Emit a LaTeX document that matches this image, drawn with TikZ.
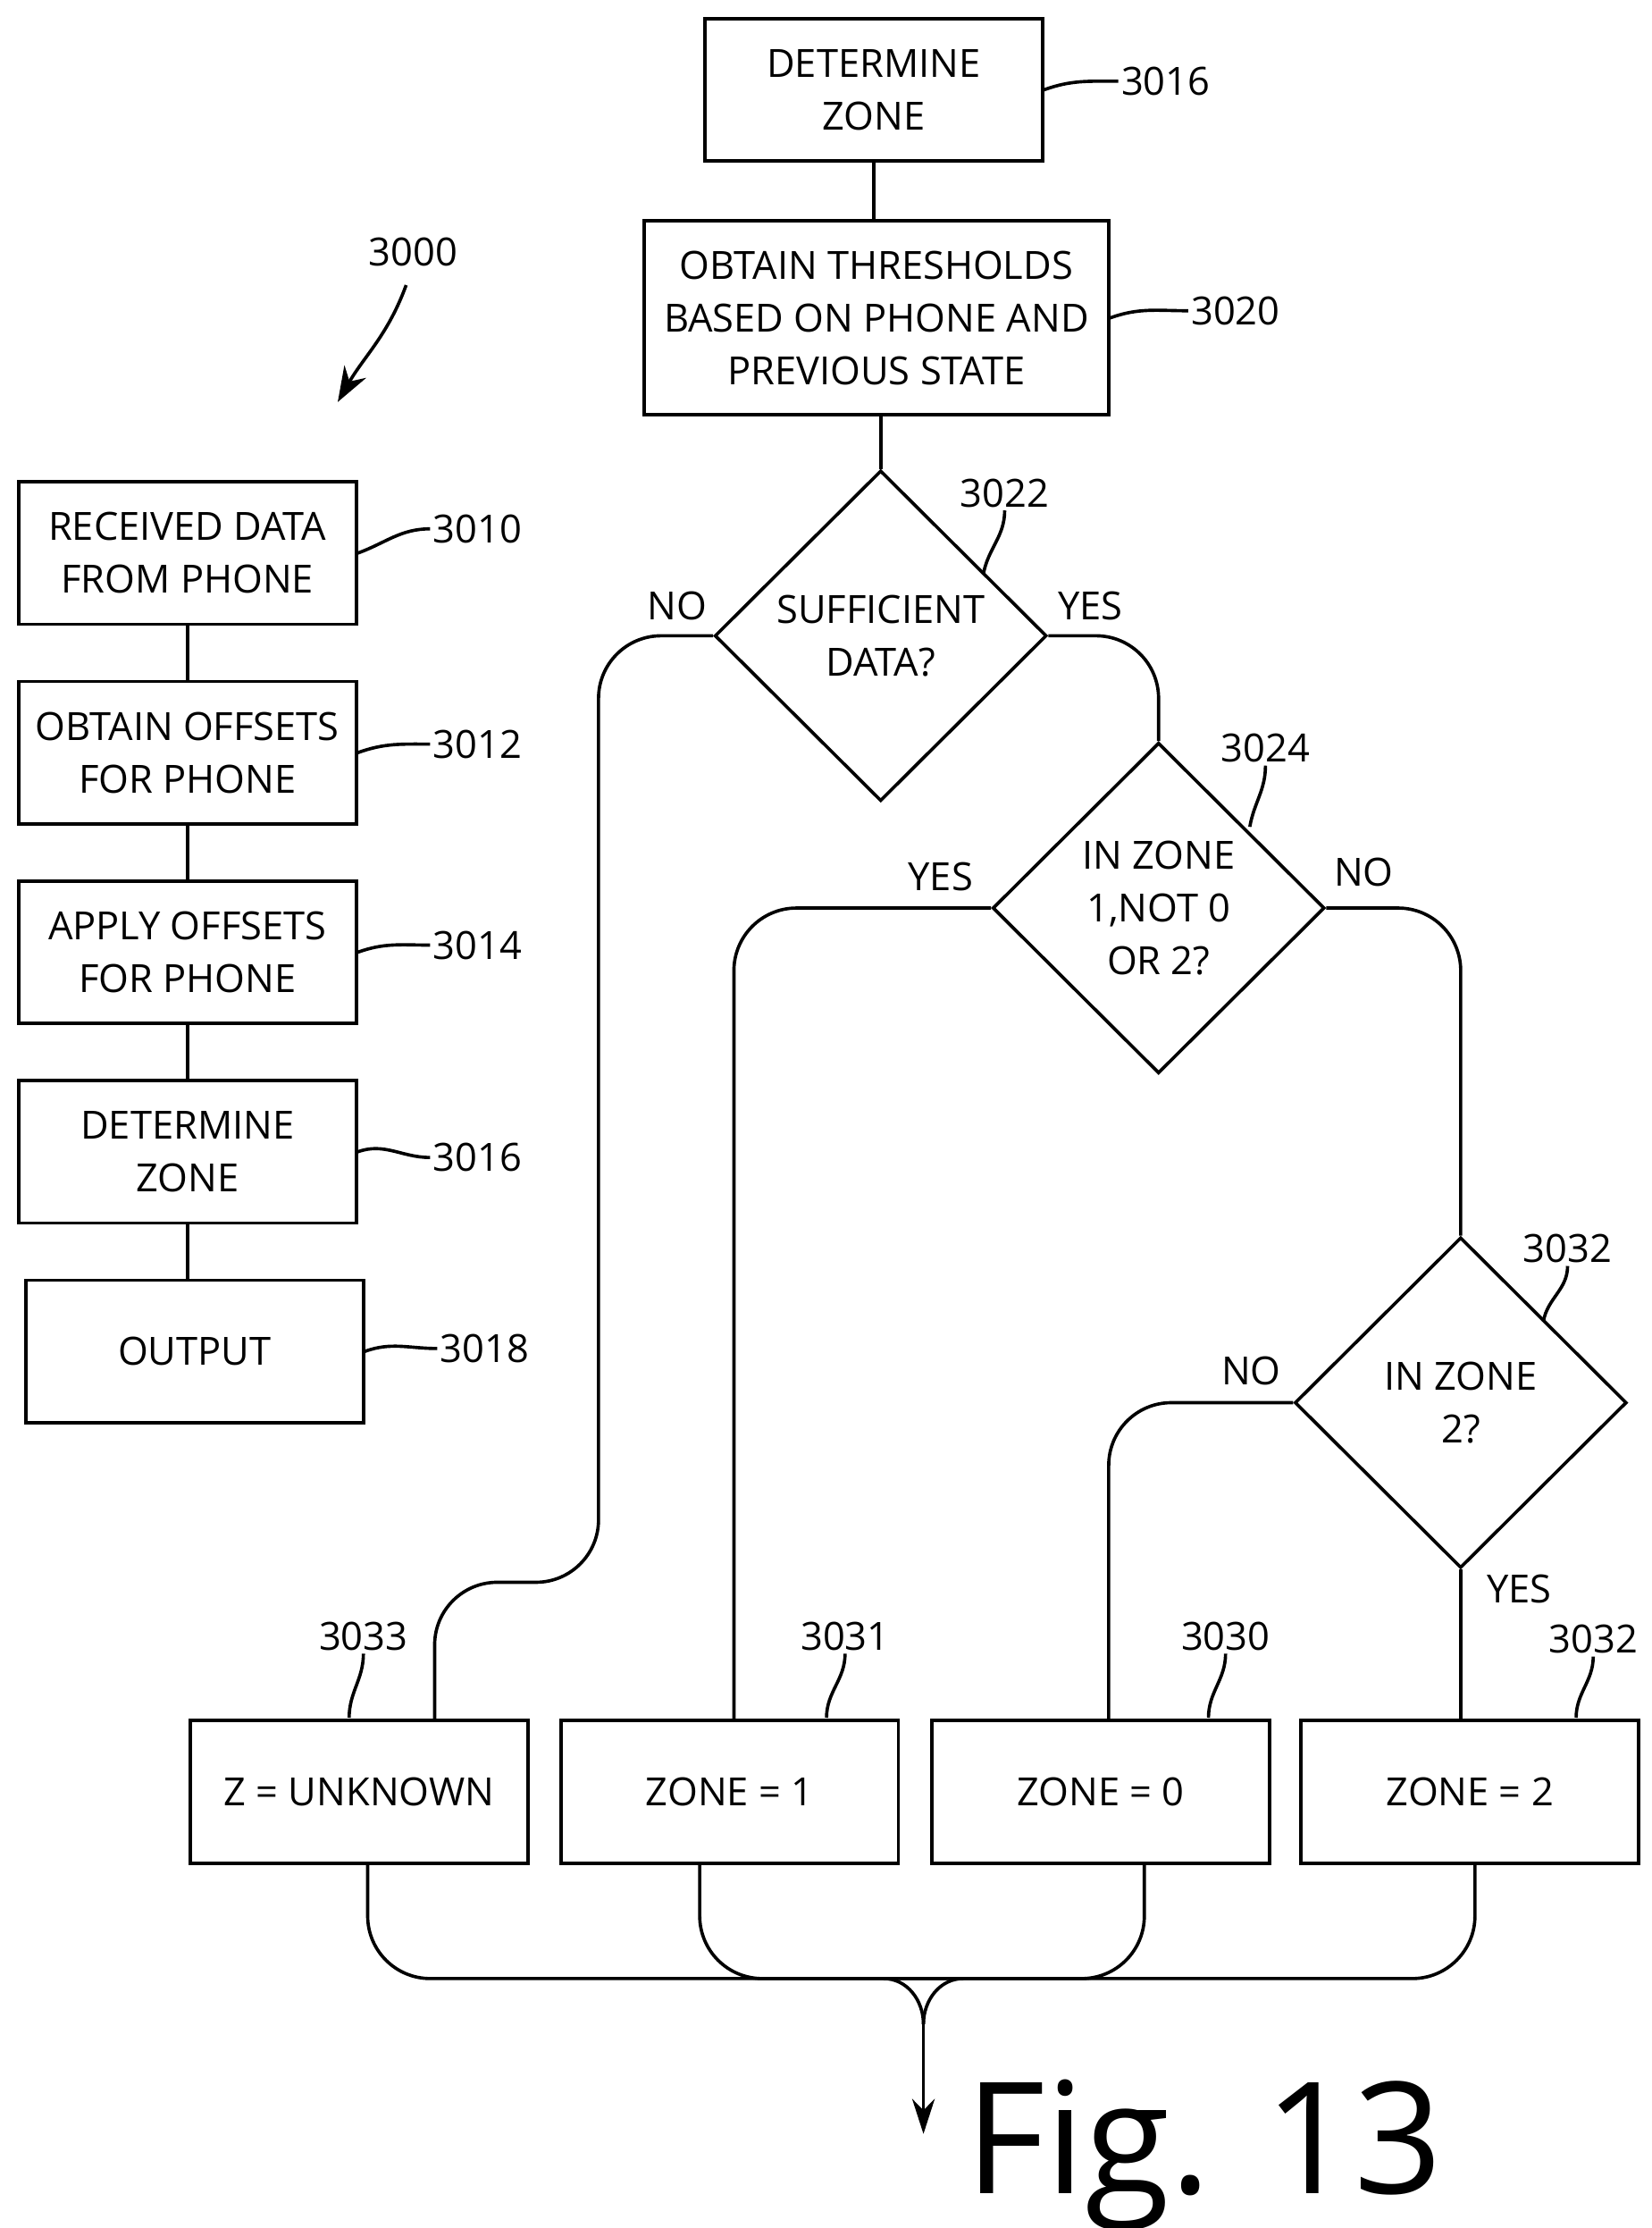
\documentclass[tikz,border=0pt]{standalone}
\usepackage{fontspec}
\setmainfont{Open Sans}
\usetikzlibrary{shapes.geometric,arrows.meta}
\begin{document}
\begin{tikzpicture}[x=0.02cm,y=-0.02cm,
  every node/.style={font=\fontsize{15.5}{21}\selectfont},
  box/.style={draw,line width=1.3pt,align=center,inner sep=0pt,minimum width=4.74cm,minimum height=2cm},
  dia/.style={draw,line width=1.3pt,diamond,align=center,inner sep=0pt,minimum width=4.66cm,minimum height=4.64cm},
  ln/.style={line width=1.3pt},
  lab/.style={inner sep=1pt}]
\useasboundingbox (0,0) rectangle (1159,1563);
% left column
\node[box] (b3010) at (131.5,388) {RECEIVED DATA\\FROM PHONE};
\node[box] (b3012) at (131.5,528) {OBTAIN OFFSETS\\FOR PHONE};
\node[box] (b3014) at (131.5,668) {APPLY OFFSETS\\FOR PHONE};
\node[box] (b3016l) at (131.5,808) {DETERMINE\\ZONE};
\node[box] (b3018) at (136.5,948) {OUTPUT};
\draw[ln] (b3010) -- (b3012); \draw[ln] (b3012) -- (b3014);
\draw[ln] (b3014) -- (b3016l); \draw[ln] (b3016l.south) -- (b3016l.south|-b3018.north);
\node[lab] (l3010) at (335,371) {3010};
\node[lab] (l3012) at (335,522) {3012};
\node[lab] (l3014) at (335,663) {3014};
\node[lab] (l3016l) at (335,812) {3016};
\node[lab] (l3018) at (340,946) {3018};
\foreach \b/\l in {b3010/l3010,b3012/l3012,b3014/l3014,b3016l/l3016l,b3018/l3018}
  \draw[ln] (\b.east) to[out=20,in=180] (\l.west);
\node[lab] (l3000) at (290,177) {3000};
\coordinate (a3000) at (237,282);
\draw[ln,-{Stealth[length=14pt,width=10pt]}] (285,200) to[out=-110,in=60] (a3000);
% main flow
\node[box] (b3016) at (613,63) {DETERMINE\\ZONE};
\node[box,minimum width=6.52cm,minimum height=2.72cm] (b3020) at (615,223) {OBTAIN THRESHOLDS\\BASED ON PHONE AND\\PREVIOUS STATE};
\node[lab] (l3016) at (818,57) {3016};
\node[lab] (l3020) at (867,218) {3020};
\draw[ln] (b3016.east) to[out=20,in=180] (l3016.west);
\draw[ln] (b3020.east) to[out=20,in=180] (l3020.west);
\draw[ln] (b3016) -- (b3016|-b3020.north);
\node[dia] (d3022) at (618,446) {SUFFICIENT\\DATA?};
\draw[ln] (b3020.south-|d3022.north) -- (d3022.north);
\node[dia] (d3024) at (813,637) {IN ZONE\\1,NOT 0\\OR 2?};
\node[dia] (d3032) at (1025,984) {IN ZONE\\2?};
\node[lab] (l3022) at (705,346) {3022};
\node[lab] (l3024) at (888,525) {3024};
\node[lab] (l3032a) at (1100,876) {3032};
\draw[ln] (690,403) to[out=80,in=-90] (l3022.south);
\draw[ln] (877,580) to[out=80,in=-90] (l3024.south);
\draw[ln] (1083,927) to[out=80,in=-90] (l3032a.south);
% bottom boxes
\node[box] (z3033) at (252,1257) {Z = UNKNOWN};
\node[box] (z3031) at (512,1257) {ZONE = 1};
\node[box] (z3030) at (772.5,1257) {ZONE = 0};
\node[box] (z3032) at (1031.5,1257) {ZONE = 2};
\node[lab] (l3033) at (255,1148) {3033};
\node[lab] (l3031) at (593,1148) {3031};
\node[lab] (l3030) at (860,1148) {3030};
\node[lab] (l3032b) at (1118,1150) {3032};
\draw[ln] (245,1205) to[out=90,in=-90] (l3033.south);
\draw[ln] (580,1205) to[out=90,in=-90] (l3031.south);
\draw[ln] (848,1205) to[out=90,in=-90] (l3030.south);
\draw[ln] (1106,1205) to[out=90,in=-90] (l3032b.south);
% branches
\coordinate (c3033) at (305,1207);
\draw[ln,rounded corners=25] (d3022.west) -- (420,446) -- (420,1110) -- (305,1110) -- (c3033);
\node at (475,425) {NO};
\draw[ln,rounded corners=25] (d3022.east) -- (813,446) -- (d3024.north);
\node at (765,425) {YES};
\coordinate (c3031) at (515,1207);
\draw[ln,rounded corners=25] (d3024.west) -- (c3031|-d3024.west) -- (c3031);
\node at (660,615) {YES};
\draw[ln,rounded corners=25] (d3024.east) -- (1025,637) -- (d3032.north);
\node at (957,612) {NO};
\coordinate (c3030) at (778,1207);
\draw[ln,rounded corners=25] (d3032.west) -- (c3030|-d3032.west) -- (c3030);
\node at (878,962) {NO};
\draw[ln] (d3032.south) -- (d3032.south|-z3032.north);
\node at (1066,1115) {YES};
% merge
\coordinate (m) at (648,1388);
\coordinate (e) at (648,1497);
\draw[ln,rounded corners=25] (258,1307) -- (258,1388) -- (1035,1388) -- (1035,1307);
\draw[ln,rounded corners=25] (491,1307) -- (491,1388) -- (803,1388) -- (803,1307);
\draw[ln] (620,1388) to[out=0,in=90] (648,1420);
\draw[ln] (676,1388) to[out=180,in=90] (648,1420);
\draw[ln,-{Stealth[length=14pt,width=9pt]}] (648,1420) -- (e);
\node[font=\fontsize{62}{70}\selectfont] (fig) at (845,1512) {Fig. 13};
\end{tikzpicture}
\end{document}
